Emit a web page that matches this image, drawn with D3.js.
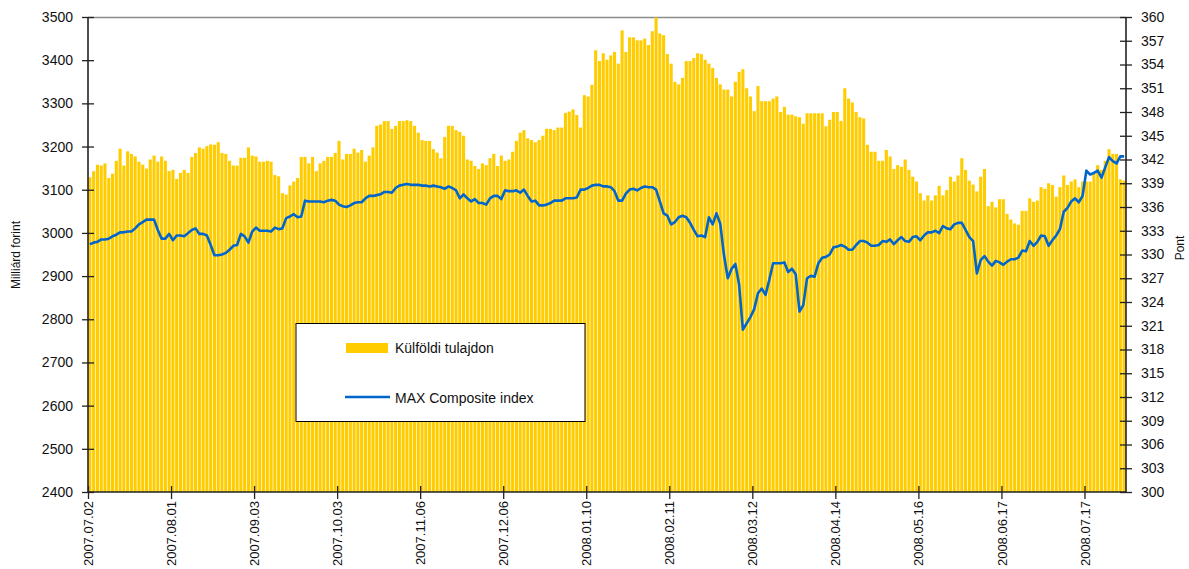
<!DOCTYPE html>
<html>
<head>
<meta charset="utf-8">
<script src="https://cdn.jsdelivr.net/npm/d3@7/dist/d3.min.js"></script>
<style>
  html, body { margin: 0; padding: 0; background: #fff; }
  svg { display: block; font-family: Arial, "Liberation Sans", sans-serif; }
</style>
</head>
<body>
<svg id="chart" width="1189" height="569"></svg>
<script>
// ---- Data ----
const tickLabels = ["2007.07.02","2007.08.01","2007.09.03","2007.10.03","2007.11.06","2007.12.06",
  "2008.01.10","2008.02.11","2008.03.12","2008.04.14","2008.05.16","2008.06.17","2008.07.17"];
const tickStep = 22; // trading days between labelled ticks

// Külföldi tulajdon (Milliárd forint), daily
const foreignOwnership = [
  3129,3143,3158,3156,3161,3127,3137,3167,3195,3156,
  3189,3183,3177,3165,3158,3149,3170,3179,3165,3177,
  3167,3143,3146,3125,3139,3146,3139,3176,3185,3198,
  3195,3201,3205,3204,3210,3185,3183,3167,3156,3156,
  3174,3174,3198,3179,3177,3165,3165,3167,3165,3134,
  3131,3092,3089,3110,3119,3127,3176,3176,3161,3176,
  3143,3161,3167,3176,3176,3185,3213,3170,3183,3183,
  3195,3186,3192,3165,3179,3198,3248,3251,3259,3259,
  3241,3248,3259,3259,3261,3259,3248,3232,3215,3213,
  3213,3194,3186,3173,3222,3248,3248,3238,3234,3225,
  3170,3167,3155,3148,3161,3157,3173,3183,3155,3179,
  3167,3170,3188,3213,3232,3238,3219,3215,3210,3215,
  3225,3241,3241,3238,3244,3244,3278,3281,3286,3273,
  3244,3319,3316,3343,3423,3398,3416,3401,3411,3419,
  3392,3469,3419,3453,3453,3446,3446,3450,3435,3467,
  3499,3462,3458,3414,3392,3350,3344,3359,3398,3398,
  3405,3416,3414,3401,3392,3382,3359,3344,3332,3332,
  3316,3350,3373,3379,3335,3316,3282,3340,3305,3305,
  3305,3311,3316,3280,3292,3274,3274,3270,3268,3253,
  3277,3277,3277,3277,3277,3247,3262,3280,3280,3259,
  3335,3311,3302,3280,3268,3265,3204,3188,3188,3167,
  3167,3192,3177,3148,3157,3153,3170,3146,3130,3119,
  3092,3075,3087,3075,3087,3109,3087,3099,3130,3119,
  3133,3173,3146,3121,3112,3096,3130,3148,3062,3072,
  3059,3078,3078,3044,3031,3022,3019,3051,3051,3080,
  3072,3075,3106,3102,3115,3111,3084,3106,3133,3111,
  3119,3124,3106,3119,3119,3119,3138,3157,3146,3167,
  3194,3183,3183,3124,3121
];

// MAX Composite index (Pont), daily
const maxIndex = [
  331.3,331.5,331.6,331.9,331.9,332.0,332.3,332.5,332.8,332.8,
  332.9,332.9,333.3,333.8,334.1,334.4,334.4,334.4,333.1,332.0,
  332.0,332.6,331.8,332.4,332.4,332.3,332.7,333.1,333.3,332.6,
  332.6,332.4,331.2,329.9,329.9,330.0,330.2,330.6,331.1,331.2,
  332.6,332.3,331.5,332.9,333.4,333.0,333.0,333.0,332.9,333.4,
  333.2,333.3,334.6,334.8,335.1,334.7,334.8,336.8,336.7,336.7,
  336.7,336.7,336.6,336.8,336.9,336.8,336.3,336.1,336.0,336.2,
  336.5,336.6,336.6,337.1,337.4,337.4,337.5,337.6,337.9,337.9,
  337.8,338.4,338.7,338.8,338.9,338.8,338.8,338.8,338.7,338.7,
  338.6,338.7,338.6,338.5,338.3,338.6,338.4,338.1,337.1,337.6,
  337.1,336.7,337.0,336.5,336.5,336.3,337.1,337.4,337.4,337.0,
  338.1,338.0,338.0,338.1,337.8,338.2,337.4,336.7,336.8,336.2,
  336.2,336.3,336.5,336.8,336.8,336.8,337.1,337.1,337.1,337.2,
  338.2,338.2,338.4,338.7,338.8,338.8,338.6,338.6,338.5,338.0,
  336.8,336.8,337.7,338.2,338.3,338.1,338.4,338.6,338.5,338.5,
  338.2,336.7,335.2,334.9,333.8,334.1,334.7,334.9,334.7,334.0,
  333.1,332.3,332.4,332.2,334.7,333.8,335.2,333.9,329.9,327.0,
  328.2,328.8,326.2,320.5,321.3,322.1,323.1,325.1,325.7,324.9,
  326.8,328.9,328.9,328.9,329.0,327.8,328.2,327.5,322.8,323.6,
  327.0,327.3,327.2,328.9,329.6,329.7,330.0,330.9,331.0,331.2,
  331.0,330.6,330.6,331.2,331.7,331.7,331.5,331.1,331.1,331.2,
  331.7,331.6,331.9,331.3,331.8,332.2,331.7,331.6,332.2,332.3,
  331.8,332.4,332.8,332.8,333.0,332.7,333.6,333.3,333.2,333.8,
  334.0,334.0,333.1,332.2,331.7,327.6,329.3,329.8,329.1,328.6,
  329.2,329.0,328.7,329.1,329.4,329.4,329.6,330.5,330.4,331.7,
  331.1,331.6,332.4,332.3,331.1,331.8,332.4,333.2,335.4,335.9,
  336.7,337.1,336.6,337.4,340.6,340.1,340.3,340.6,339.7,341.0,
  342.3,341.8,341.5,342.4,342.4
];

const leftTicks = d3.range(2400, 3501, 100);
const rightTicks = d3.range(300, 361, 3);
const seriesNames = ["Külföldi tulajdon", "MAX Composite index"];
const leftTitle = "Milliárd forint";
const rightTitle = "Pont";

// ---- Layout ----
const L = 88, R = 1126, T = 17, B = 492;
const n = foreignOwnership.length;
const svg = d3.select("#chart");

const x = d3.scaleBand().domain(d3.range(n)).range([L, R]).paddingInner(0.18).paddingOuter(0.09);
const xEdge = d3.scaleLinear().domain([0, n]).range([L, R]);
const yL = d3.scaleLinear().domain([2400, 3500]).range([B, T]);
const yR = d3.scaleLinear().domain([300, 360]).range([B, T]);

const barColor = "#FFCC00";
const lineColor = "#0066CC";

// top border
svg.append("line").attr("x1", L).attr("x2", R).attr("y1", T + 0.5).attr("y2", T + 0.5)
  .attr("stroke", "#8c8c8c").attr("stroke-width", 1.5);

// bars
svg.append("g").selectAll("rect").data(foreignOwnership).join("rect")
  .attr("x", (d, i) => x(i))
  .attr("width", x.bandwidth())
  .attr("y", d => yL(d))
  .attr("height", d => B - yL(d))
  .attr("fill", barColor);

// line
const line = d3.line().x((d, i) => x(i) + x.bandwidth() / 2).y(d => yR(d));
svg.append("path").datum(maxIndex).attr("d", line)
  .attr("fill", "none").attr("stroke", lineColor).attr("stroke-width", 2.6)
  .attr("stroke-linejoin", "round");

// axes
const axL = svg.append("g").attr("transform", `translate(${L},0)`)
  .call(d3.axisLeft(yL).tickValues(leftTicks).tickSize(6).tickPadding(9).tickFormat(d3.format("d")));
axL.selectAll(".tick line").attr("x1", 6);
const axR = svg.append("g").attr("transform", `translate(${R},0)`)
  .call(d3.axisRight(yR).tickValues(rightTicks).tickSize(6).tickPadding(9).tickFormat(d3.format("d")));
axR.selectAll(".tick line").attr("x1", -6);
const axB = svg.append("g").attr("transform", `translate(0,${B})`)
  .call(d3.axisBottom(xEdge).tickValues(tickLabels.map((_, i) => i * tickStep)).tickSize(7)
    .tickFormat((d, i) => tickLabels[i]));
axB.selectAll(".tick line").attr("y1", -6);
axB.selectAll(".tick text")
  .attr("transform", "rotate(-90)")
  .attr("text-anchor", "end")
  .attr("x", -9).attr("y", 0).attr("dy", "0.35em");

[axL, axR, axB].forEach(a => {
  a.selectAll(".domain").attr("stroke", "#222").attr("stroke-width", 1.6);
  a.selectAll(".tick line").attr("stroke", "#222").attr("stroke-width", 1.3);
  a.selectAll(".tick text").attr("fill", "#111").attr("font-size", 14)
    .attr("font-family", "Arial, 'Liberation Sans', sans-serif");
});
axB.selectAll(".tick text").attr("font-size", 13);
axL.select(".domain").attr("d", `M0,${T}V${B}`);
axR.select(".domain").attr("d", `M0,${T}V${B}`);
axB.select(".domain").attr("d", `M${L},0H${R}`);

// axis titles
svg.append("text").attr("transform", `translate(20,255) rotate(-90)`)
  .attr("text-anchor", "middle").attr("font-size", 12).attr("fill", "#111").text(leftTitle);
svg.append("text").attr("transform", `translate(1184,248) rotate(-90)`)
  .attr("text-anchor", "middle").attr("font-size", 12).attr("fill", "#111").text(rightTitle);

// legend
const lg = svg.append("g");
lg.append("rect").attr("x", 296).attr("y", 323.5).attr("width", 289).attr("height", 98)
  .attr("fill", "#fff").attr("stroke", "#000").attr("stroke-width", 1);
lg.append("rect").attr("x", 346).attr("y", 343).attr("width", 42).attr("height", 10).attr("fill", barColor);
lg.append("text").attr("x", 395).attr("y", 353).attr("font-size", 14).attr("fill", "#111").text(seriesNames[0]);
lg.append("line").attr("x1", 345).attr("x2", 390).attr("y1", 397).attr("y2", 397)
  .attr("stroke", lineColor).attr("stroke-width", 2.6);
lg.append("text").attr("x", 395).attr("y", 403).attr("font-size", 14).attr("fill", "#111").text(seriesNames[1]);
</script>
</body>
</html>
